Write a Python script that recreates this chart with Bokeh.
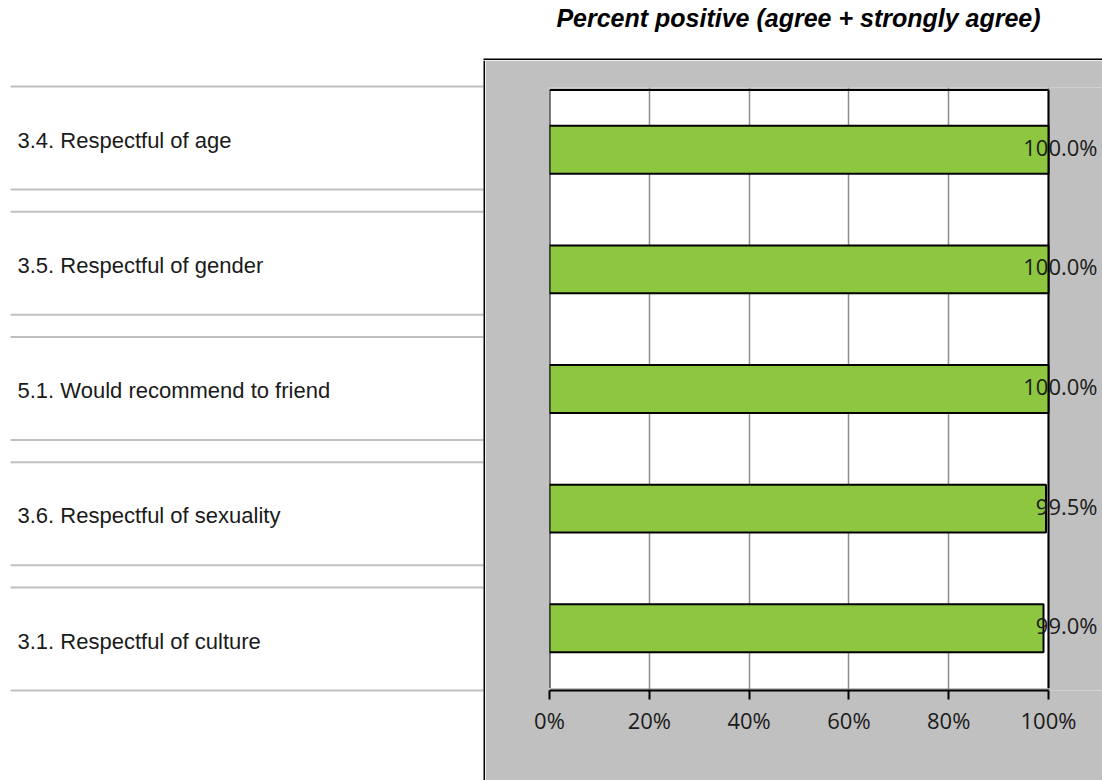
from bokeh.plotting import figure
from bokeh.layouts import row, column
from bokeh.models import (Range1d, FactorRange, ColumnDataSource,
                          FixedTicker, PrintfTickFormatter)
from bokeh.core.properties import value
from bokeh.embed import file_html
from bokeh.resources import INLINE

# ---- data -------------------------------------------------------------
chart_title = "Percent positive (agree + strongly agree)"
items = [
    "3.4. Respectful of age",
    "3.5. Respectful of gender",
    "5.1. Would recommend to friend",
    "3.6. Respectful of sexuality",
    "3.1. Respectful of culture",
]
percent_positive = [100.0, 100.0, 100.0, 99.5, 99.0]
x_ticks = [0, 20, 40, 60, 80, 100]

# ---- layout constants (page pixels) ----------------------------------
PAGE_W, PAGE_H = 1102, 780
PANEL_X, PANEL_Y = 485, 60          # grey panel, inside its 2px black edge
GREY = "#c0c0c0"
BAR_GREEN = "#8dc63f"
TEXT = "#1a1a1a"


def blank_fig(w, h, xr, yr):
    f = figure(width=w, height=h, x_range=xr, y_range=yr,
               x_axis_type=None, y_axis_type=None, toolbar_location=None,
               output_backend="svg", min_border=0, outline_line_color=None,
               border_fill_color="white", background_fill_color="white",
               frame_align=False)
    f.grid.visible = False
    return f


# ---- title strip -----------------------------------------------------
top = blank_fig(PAGE_W, PANEL_Y, Range1d(0, PAGE_W), Range1d(PANEL_Y, 0))
top.text(x=[798], y=[17], text=[chart_title],
         text_font=value("Liberation Sans"), text_font_style="bold italic",
         text_font_size="25px", text_color="black",
         text_align="center", text_baseline="middle")
top.quad(left=PANEL_X - 2, right=PAGE_W, top=PANEL_Y - 2, bottom=PANEL_Y,
         fill_color="black", line_color=None)

# ---- left column: item names between thin rules ----------------------
ROW_TOP, ROW_PITCH, ROW_H = 86, 125.25, 103
row_tops = [ROW_TOP + k * ROW_PITCH for k in range(len(items))]

left = blank_fig(PANEL_X, PAGE_H - PANEL_Y, Range1d(0, PANEL_X),
                 Range1d(PAGE_H, PANEL_Y))
rule_y = row_tops + [t + ROW_H for t in row_tops]
left.segment(x0=10, x1=PANEL_X - 2, y0=rule_y, y1=rule_y,
             line_color=GREY, line_width=2)
left.text(x=17, y=[t + ROW_H / 2 + 2 for t in row_tops], text=items,
          text_font=value("Liberation Sans"), text_font_size="22px",
          text_color=TEXT, text_baseline="middle", text_align="left")
left.quad(left=PANEL_X - 2, right=PANEL_X, top=PANEL_Y, bottom=PAGE_H,
          fill_color="black", line_color=None)

# ---- bar chart -------------------------------------------------------
src = ColumnDataSource(dict(
    item=items,
    pct=percent_positive,
    label=[f"{v:.1f}%" for v in percent_positive],
))

PLOT_PX = 499                    # pixels from 0% to 100%
FRAME_PX = PAGE_W - 549          # frame runs on to the page edge
x_end = 100 * FRAME_PX / PLOT_PX

p = figure(width=PAGE_W - PANEL_X, height=PAGE_H - PANEL_Y,
           y_range=FactorRange(factors=items[::-1], range_padding=0.02,
                               range_padding_units="absolute"),
           x_range=Range1d(0, x_end),
           toolbar_location=None, output_backend="svg",
           min_border_left=64, min_border_right=0,
           min_border_top=27, min_border_bottom=90,
           border_fill_color=GREY, background_fill_color=GREY,
           outline_line_color=None, frame_align=False)

n = len(items)
# white plotting area with its black frame (bottom edge is the x axis)
p.quad(left=0, right=100, bottom=0, top=n, fill_color="white",
       line_color=None, level="image")
p.segment(x0=[0, 0, 100], x1=[0, 100, 100], y0=[0, n, 0], y1=[n, n, n],
          line_color="black", line_width=2)

p.hbar(y="item", right="pct", height=0.4, source=src,
       fill_color=BAR_GREEN, line_color="black", line_width=2)

# value labels pinned to the right edge of the panel
src.data["anchor"] = [100 + 49 * 100 / PLOT_PX] * n
p.text(x="anchor", y="item", text="label", source=src,
       text_align="right", text_baseline="middle", y_offset=-3,
       text_font=value("Open Sans"), text_font_size="22px",
       text_color=TEXT)

p.yaxis.visible = False
p.ygrid.grid_line_color = None
p.xgrid.grid_line_color = "#8c8c8c"
p.xgrid.grid_line_width = 1.5
p.xgrid.ticker = FixedTicker(ticks=x_ticks)
p.xgrid.bounds = (0, 100)

xa = p.xaxis[0]
xa.bounds = (0, 100)
xa.ticker = FixedTicker(ticks=x_ticks)
xa.formatter = PrintfTickFormatter(format="%d%%")
xa.axis_line_color = "black"
xa.axis_line_width = 2
xa.major_tick_line_color = "black"
xa.major_tick_line_width = 2
xa.major_tick_in = 0
xa.major_tick_out = 9
xa.minor_tick_line_color = None
xa.major_label_standoff = 5
xa.major_label_text_font = "Open Sans"
xa.major_label_text_font_size = "22px"
xa.major_label_text_color = TEXT

layout = column(top, row(left, p))

open("out.html", "w").write(file_html(layout, INLINE))
